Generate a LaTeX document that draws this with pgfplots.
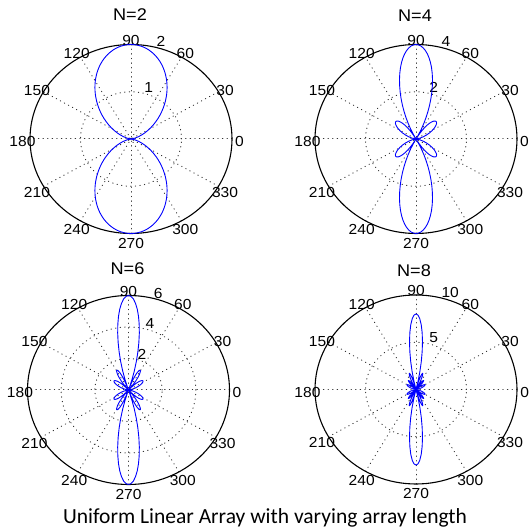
\documentclass[border=0pt]{standalone}
\usepackage{pgfplots}
\pgfplotsset{compat=1.18}
\usepackage{pgfplotstable}
\usepackage{fontspec}
\setmainfont{Liberation Sans}
\newfontfamily\capfont{Carlito}

% theta (deg, 0..90) and |AF| for a uniform linear array, d = lambda/2
\pgfplotstableread{
t r
0 0
12.84 0.079
18.19 0.157
22.33 0.235
25.84 0.313
28.96 0.390
31.79 0.467
34.41 0.543
36.87 0.618
39.20 0.692
41.41 0.765
43.53 0.837
45.57 0.908
47.55 0.977
49.46 1.045
51.32 1.111
53.13 1.176
54.90 1.238
56.63 1.299
58.33 1.358
60.00 1.414
61.64 1.469
63.26 1.521
64.85 1.571
66.42 1.618
67.98 1.663
69.51 1.705
71.03 1.745
72.54 1.782
74.04 1.816
75.52 1.848
77.00 1.876
78.46 1.902
79.92 1.925
81.37 1.945
82.82 1.962
84.26 1.975
85.70 1.986
87.13 1.994
88.57 1.998
90 2
}\tabA

\pgfplotstableread{
t r
0 0
12.84 0.157
18.19 0.310
22.33 0.457
25.84 0.595
28.96 0.721
31.79 0.832
34.41 0.926
36.87 1.000
39.20 1.052
41.41 1.082
43.53 1.087
45.57 1.067
47.55 1.021
49.46 0.949
51.32 0.850
53.13 0.727
54.90 0.578
56.63 0.406
58.33 0.213
60.00 0
61.64 0.231
63.26 0.476
64.85 0.733
66.42 1.000
67.98 1.273
69.51 1.548
71.03 1.824
72.54 2.095
74.04 2.359
75.52 2.613
77.00 2.853
78.46 3.078
79.92 3.283
81.37 3.466
82.82 3.625
84.26 3.757
85.70 3.862
87.13 3.939
88.57 3.984
90 4
}\tabB

\pgfplotstableread{
t r
0 0
12.84 0.234
18.19 0.455
22.33 0.654
25.84 0.819
28.96 0.942
31.79 1.016
34.41 1.036
36.87 1.000
39.20 0.909
41.41 0.765
43.53 0.575
45.57 0.347
47.55 0.090
48.19 0
49.46 0.183
51.32 0.460
53.13 0.727
54.90 0.968
56.63 1.172
58.33 1.324
60.00 1.414
61.64 1.432
63.26 1.372
64.85 1.228
66.42 1.000
67.98 0.689
69.51 0.299
70.53 0
71.03 0.161
72.54 0.681
74.04 1.248
75.52 1.848
77.00 2.463
78.46 3.078
79.92 3.673
81.37 4.231
82.82 4.736
84.26 5.172
85.70 5.525
87.13 5.786
88.57 5.946
90 6
}\tabC

\pgfplotstableread{
t r
0 0
12.84 0.310
18.19 0.590
22.33 0.814
25.84 0.963
28.96 1.020
31.79 0.978
34.41 0.841
36.87 0.618
39.20 0.329
41.41 0
43.53 0.340
45.57 0.659
47.55 0.927
49.46 1.116
51.32 1.202
53.13 1.176
54.90 1.030
56.63 0.772
58.33 0.421
60.00 0
61.64 0.456
63.26 0.905
64.85 1.306
66.42 1.618
67.98 1.800
69.51 1.820
71.03 1.656
72.54 1.295
74.04 0.738
75.52 0
77.00 0.893
78.46 1.902
79.92 2.981
81.37 4.075
82.82 5.127
84.26 6.079
85.70 6.882
87.13 7.492
88.57 7.870
90 8
}\tabD

\definecolor{mblue}{rgb}{0,0,1}
\tikzset{
  griddot/.style={black!80, line width=1.0bp, line cap=round, dash pattern=on 0.4bp off 4.2bp},
  lab/.style={font=\fontsize{14.6}{16}\selectfont, xscale=1.07, inner sep=0pt},
  rlab/.style={font=\fontsize{14.6}{16}\selectfont, xscale=1.07, inner sep=0pt, anchor=west, xshift=0.3bp, yshift=3.4bp},
  ttl/.style={font=\fontsize{17}{19}\selectfont, xscale=1.07, inner sep=0pt},
}
\pgfplotsset{
  polbox/.style={scale only axis, width=202bp, height=189bp, anchor=center,
    axis lines=none, clip=false, xtick=\empty, ytick=\empty,
    xmin=-#1, xmax=#1, ymin=-#1, ymax=#1},
  curve/.style={mblue, line width=0.9bp, no marks, data cs=polar},
}

\newcommand{\polarframe}[1]{%
  \pgfplotsinvokeforeach{30,60,90,120,150,180}{
    \draw[griddot] (axis cs:{-#1*cos(##1)},{-#1*sin(##1)}) -- (axis cs:{#1*cos(##1)},{#1*sin(##1)});
  }
  \draw[line width=1.1bp] (axis cs:0,0) ellipse [x radius=#1, y radius=#1];
  \pgfplotsinvokeforeach{0,30,60,90,120,150,180,210,240,270,300,330}{
    \node[lab, yshift=-2.7bp] at (axis cs:{1.075*#1*cos(##1)},{1.075*#1*sin(##1)}) {##1};
  }
}
\newcommand{\fourfold}[1]{%
  \addplot[curve] table[x=t, y=r] {#1};
  \addplot[curve] table[x expr=180-\thisrow{t}, y=r] {#1};
  \addplot[curve] table[x expr=180+\thisrow{t}, y=r] {#1};
  \addplot[curve] table[x expr=360-\thisrow{t}, y=r] {#1};
}

\begin{document}
\begin{tikzpicture}
\useasboundingbox (0,0) rectangle (530bp,531bp);

% N=2
\begin{axis}[polbox=2, at={(131bp,392bp)}]
  \polarframe{2}
  \draw[griddot] (axis cs:0,0) ellipse [x radius=1, y radius=1];
  \node[rlab] at (axis cs:{1.05*cos(76)},{1.05*sin(76)}) {1};
  \node[rlab] at (axis cs:{2.05*cos(76)},{2.05*sin(76)}) {2};
  \fourfold{\tabA}
\end{axis}

% N=4
\begin{axis}[polbox=4, at={(416bp,392bp)}]
  \polarframe{4}
  \draw[griddot] (axis cs:0,0) ellipse [x radius=2, y radius=2];
  \node[rlab] at (axis cs:{2.1*cos(76)},{2.1*sin(76)}) {2};
  \node[rlab] at (axis cs:{4.1*cos(76)},{4.1*sin(76)}) {4};
  \fourfold{\tabB}
\end{axis}

% N=6
\begin{axis}[polbox=6, at={(128.5bp,141bp)}]
  \polarframe{6}
  \draw[griddot] (axis cs:0,0) ellipse [x radius=2, y radius=2];
  \draw[griddot] (axis cs:0,0) ellipse [x radius=4, y radius=4];
  \node[rlab] at (axis cs:{2.1*cos(76)},{2.1*sin(76)}) {2};
  \node[rlab] at (axis cs:{4.1*cos(76)},{4.1*sin(76)}) {4};
  \node[rlab] at (axis cs:{6.1*cos(76)},{6.1*sin(76)}) {6};
  \fourfold{\tabC}
\end{axis}

% N=8
\begin{axis}[polbox=10, at={(416bp,141.5bp)}]
  \polarframe{10}
  \draw[griddot] (axis cs:0,0) ellipse [x radius=5, y radius=5];
  \node[rlab] at (axis cs:{5.25*cos(76)},{5.25*sin(76)}) {5};
  \node[rlab] at (axis cs:{10.25*cos(76)},{10.25*sin(76)}) {10};
  \fourfold{\tabD}
\end{axis}

\node[ttl] at (130bp,516bp) {N=2};
\node[ttl] at (415bp,515bp) {N=4};
\node[ttl] at (127.5bp,262bp) {N=6};
\node[ttl] at (414bp,260bp) {N=8};
\node[font=\capfont\fontsize{21.6}{24}\selectfont, anchor=base, inner sep=0pt] at (265bp,8bp) {Uniform Linear Array with varying array length};
\end{tikzpicture}
\end{document}
